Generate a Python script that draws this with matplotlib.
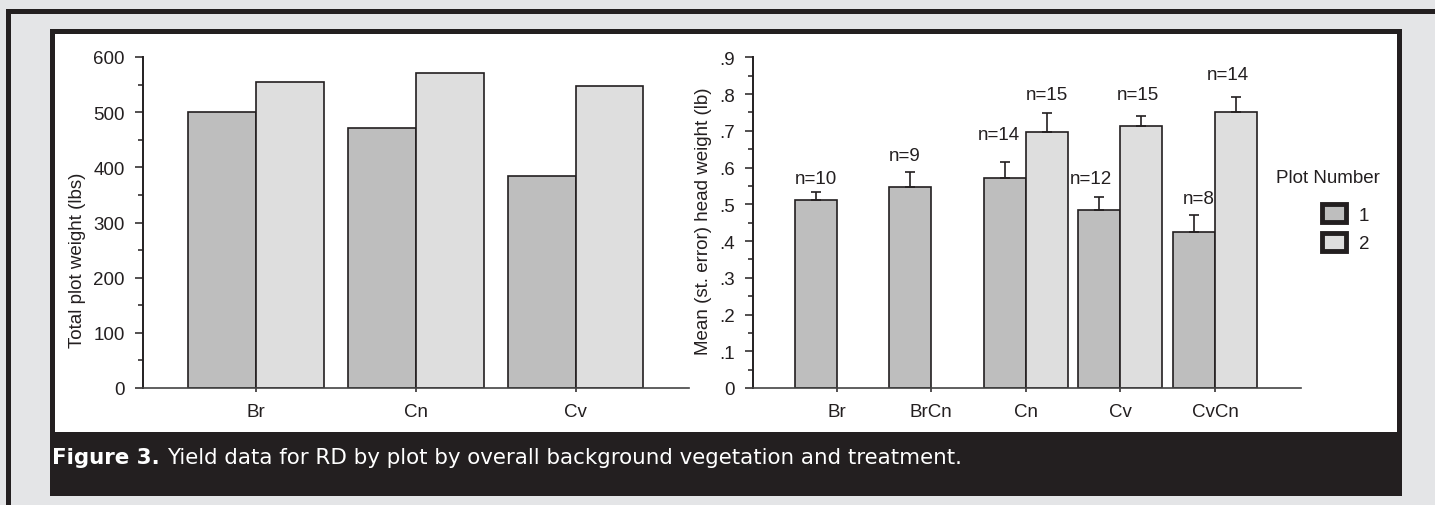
import matplotlib.pyplot as plt
from matplotlib.patches import Rectangle, Patch
from matplotlib.ticker import MultipleLocator
import numpy as np

plt.rcParams['font.family'] = ['Liberation Sans', 'DejaVu Sans']

# left panel: total plot weight (lbs) by background vegetation
veg = ["Br", "Cn", "Cv"]
total_plot1 = [500, 471, 384]
total_plot2 = [555, 571, 548]

# right panel: mean head weight (lb), st. error and n by treatment
treat = ["Br", "BrCn", "Cn", "Cv", "CvCn"]
mean_plot1 = [0.512, 0.548, 0.571, 0.484, 0.424]
se_plot1 = [0.022, 0.039, 0.045, 0.037, 0.047]
n_plot1 = [10, 9, 14, 12, 8]
mean_plot2 = [None, None, 0.697, 0.714, 0.750]
se_plot2 = [None, None, 0.052, 0.027, 0.043]
n_plot2 = [None, None, 15, 15, 14]

plot_names = ["1", "2"]

# colours
c1 = "#bebebe"
c2 = "#dedede"
ink = "#231f20"
page = "#e4e5e7"

fs = 13.5      # tick / annotation text
fs_lab = 13.5  # axis titles
fs_cap = 15.4  # caption

W, H = 1435, 506
fig = plt.figure(figsize=(W / 100, H / 100), dpi=100, facecolor=page)


def fbox(x0, y0, x1, y1):
    # pixel box (top-left origin) -> figure fraction rect
    return (x0 / W, 1 - y1 / H, (x1 - x0) / W, (y1 - y0) / H)


def frect(x0, y0, x1, y1, color):
    l, b, w, h = fbox(x0, y0, x1, y1)
    fig.add_artist(Rectangle((l, b), w, h, transform=fig.transFigure,
                             facecolor=color, edgecolor="none", zorder=0))


# page decoration
frect(6, 10, W, 15, ink)
frect(6, 10, 11, H, ink)
frect(50, 30, 1402, 497, ink)
frect(55, 35, 1397, 433, "white")


def style_axes(ax):
    ax.set_facecolor("none")
    ax.spines["top"].set_visible(False)
    ax.spines["right"].set_visible(False)
    ax.spines["left"].set_linewidth(1.4)
    ax.spines["bottom"].set_linewidth(1.2)
    ax.spines["left"].set_color(ink)
    ax.spines["bottom"].set_color("#444444")
    ax.tick_params(axis="y", which="major", direction="out", length=6, width=1.1,
                   color=ink, labelsize=fs, labelcolor=ink, pad=7)
    ax.tick_params(axis="y", which="minor", direction="out", length=3.5, width=1.1, color=ink)
    ax.tick_params(axis="x", direction="out", length=3, width=1.1, color=ink,
                   labelsize=fs, labelcolor=ink, pad=8)


# ---- left panel
ax1 = fig.add_axes(fbox(143, 58, 689, 389))
style_axes(ax1)
x = np.arange(len(veg))
w = 0.425
ax1.bar(x - w / 2, total_plot1, w, color=c1, edgecolor=ink, linewidth=1.2)
ax1.bar(x + w / 2, total_plot2, w, color=c2, edgecolor=ink, linewidth=1.2)
ax1.set_xlim(-0.706, 2.71)
ax1.set_ylim(0, 600)
ax1.yaxis.set_major_locator(MultipleLocator(100))
ax1.yaxis.set_minor_locator(MultipleLocator(50))
ax1.set_xticks(x)
ax1.set_xticklabels(veg)
fig.text(77 / W, 1 - 260 / H, "Total plot weight (lbs)", rotation=90,
         ha="center", va="center", fontsize=fs_lab, color=ink)

# ---- right panel
ax2 = fig.add_axes(fbox(752.7, 58.3, 1300.7, 389))
style_axes(ax2)
x2 = np.arange(len(treat))
w2 = 0.444
ax2.bar(x2 - w2 / 2, mean_plot1, w2, color=c1, edgecolor=ink, linewidth=1.2)
ax2.errorbar(x2 - w2 / 2, mean_plot1, yerr=[np.zeros(len(se_plot1)), se_plot1],
             fmt="none", ecolor=ink, elinewidth=1.2, capsize=3.5, capthick=1.2)
idx2 = [i for i, m in enumerate(mean_plot2) if m is not None]
m2 = [mean_plot2[i] for i in idx2]
s2 = [se_plot2[i] for i in idx2]
ax2.bar(x2[idx2] + w2 / 2, m2, w2, color=c2, edgecolor=ink, linewidth=1.2)
ax2.errorbar(x2[idx2] + w2 / 2, m2, yerr=[np.zeros(len(s2)), s2],
             fmt="none", ecolor=ink, elinewidth=1.2, capsize=3.5, capthick=1.2)

# n labels (nudges keep them clear of neighbouring bars)
dx1 = [0.0, -0.06, -0.06, -0.085, 0.05]
dy1 = [0.037, 0.045, 0.075, 0.05, 0.046]
dx2 = [0, 0, 0.0, -0.04, -0.085]
dy2 = [0, 0, 0.049, 0.057, 0.061]
for i in range(len(treat)):
    ax2.text(x2[i] - w2 / 2 + dx1[i], mean_plot1[i] + se_plot1[i] + dy1[i],
             f"n={n_plot1[i]}", ha="center", va="center", fontsize=fs, color=ink)
    if n_plot2[i] is not None:
        ax2.text(x2[i] + w2 / 2 + dx2[i], mean_plot2[i] + se_plot2[i] + dy2[i],
                 f"n={n_plot2[i]}", ha="center", va="center", fontsize=fs, color=ink)

ax2.set_xlim(-0.888, 4.906)
ax2.set_ylim(0, 0.9)
ax2.yaxis.set_minor_locator(MultipleLocator(0.05))
ax2.set_yticks(np.arange(0, 0.95, 0.1))
ax2.set_yticklabels(["0"] + [f".{k}" for k in range(1, 10)])
ax2.set_xticks(x2)
ax2.set_xticklabels(treat)
fig.text(704 / W, 1 - 221 / H, "Mean (st. error) head weight (lb)", rotation=90,
         ha="center", va="center", fontsize=fs_lab, color=ink)

# legend
handles = [Patch(facecolor=c, edgecolor=ink, linewidth=3.5) for c in (c1, c2)]
fig.legend(handles, plot_names, loc="upper left",
           bbox_to_anchor=(1313 / W, 1 - 196 / H), frameon=False, fontsize=fs,
           handlelength=1.25, handleheight=1.1, handletextpad=0.7,
           labelspacing=0.5, borderpad=0, labelcolor=ink)
fig.text(1328 / W, 1 - 179 / H, "Plot Number", ha="center", va="center",
         fontsize=fs, color=ink)

# caption
cap1 = fig.text(52 / W, 1 - 464 / H, "Figure 3.", ha="left", va="baseline",
                fontsize=fs_cap, fontweight="bold", color="white", family="DejaVu Sans")
r = fig.canvas.get_renderer()
bb = cap1.get_window_extent(renderer=r)
fig.text((bb.x1 + 7) / W, 1 - 464 / H,
         "Yield data for RD by plot by overall background vegetation and treatment.",
         ha="left", va="baseline", fontsize=fs_cap, color="white", family="DejaVu Sans")

fig.savefig("out.png", dpi=100, facecolor=page)
